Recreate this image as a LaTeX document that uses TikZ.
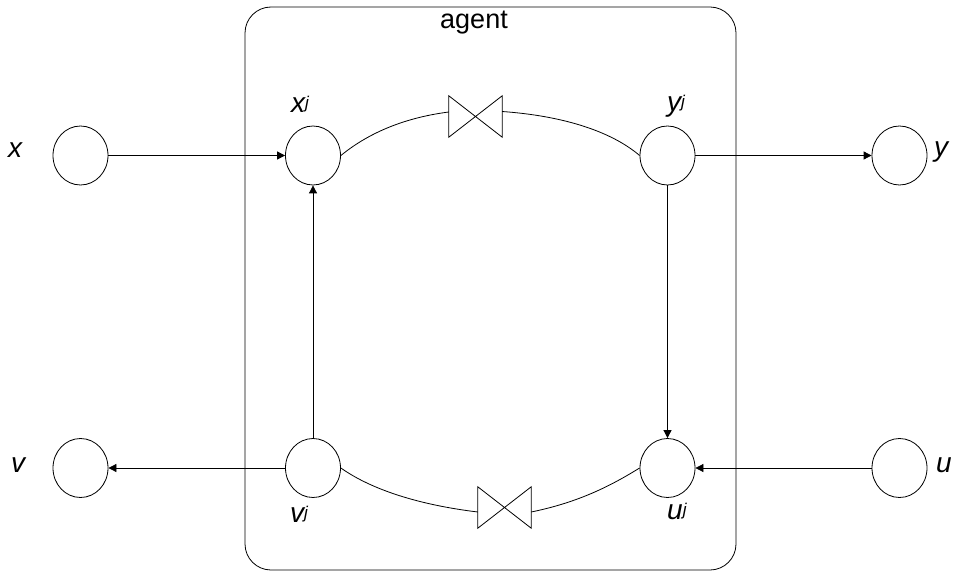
\documentclass[tikz,border=0pt]{standalone}
\usepackage{fontspec}
\setmainfont{Liberation Sans}
\usetikzlibrary{shapes.geometric,arrows.meta,calc}
\newcommand{\supj}{\raisebox{4pt}{\fontsize{17}{17}\selectfont j}}
\begin{document}
\begin{tikzpicture}[x=1pt,y=-1pt,
  st/.style={draw,ellipse,minimum width=55pt,minimum height=59pt,inner sep=0pt,line width=0.8pt},
  lbl/.style={font=\fontsize{28}{30}\selectfont\itshape,inner sep=0pt,anchor=base west},
  valve/.style={minimum width=53pt,minimum height=41pt,inner sep=0pt},
  conn/.style={line width=0.8pt},
  arr/.style={conn,-{Triangle[length=8pt,width=8pt]}}]
\useasboundingbox (0,0) rectangle (958,572);
% agent box
\draw[conn,rounded corners=26pt] (245,7) rectangle (736,570);
\node[font=\fontsize{27}{30}\selectfont,inner sep=0pt,anchor=base] (ag) at (474,29) {agent};
% states
\node[st] (x) at (80.5,155.5) {};
\node[st] (xj) at (313,155.5) {};
\node[st] (yj) at (667.5,155.5) {};
\node[st] (y) at (899.5,155.5) {};
\node[st] (v) at (80.5,468) {};
\node[st] (vj) at (313,468) {};
\node[st] (uj) at (667.5,468) {};
\node[st] (u) at (899.5,468) {};
% labels
\node[lbl] (lx) at (8,158) {x};
\node[lbl] (lxj) at (291,113) {x\supj};
\node[lbl] (lyj) at (667,112) {y\supj};
\node[lbl] (ly) at (934,157) {y};
\node[lbl] (lv) at (11,472) {v};
\node[lbl] (lvj) at (290,522) {v\supj};
\node[lbl] (luj) at (667,519) {u\supj};
\node[lbl] (lu) at (936,472) {u};
% valves
\node[valve] (b1) at (475.5,116.5) {};
\draw[conn,line join=miter] (b1.north west) -- (b1.south west) -- (b1.north east) -- (b1.south east) -- cycle;
\node[valve] (b2) at (504.5,507.5) {};
\draw[conn,line join=miter] (b2.north west) -- (b2.south west) -- (b2.north east) -- (b2.south east) -- cycle;
% curves
\draw[conn] (xj.east) .. controls (372,130) and (410,117) .. ($(b1.west)+(0,-4.5)$);
\draw[conn] ($(b1.east)+(0,-5)$) .. controls (565,116) and (612,132) .. (yj.west);
\draw[conn] (vj.east) .. controls (372,490) and (420,505) .. ($(b2.west)+(0,4.5)$);
\draw[conn] ($(b2.east)+(0,4.5)$) .. controls (580,502) and (612,485) .. (uj.west);
% arrows
\draw[arr] (x.east) -- (xj.west);
\draw[arr] (vj.north) -- (xj.south);
\draw[arr] (yj.east) -- (y.west);
\draw[arr] (yj.south) -- (uj.north);
\draw[arr] (vj.west) -- (v.east);
\draw[arr] (u.west) -- (uj.east);
\end{tikzpicture}
\end{document}
